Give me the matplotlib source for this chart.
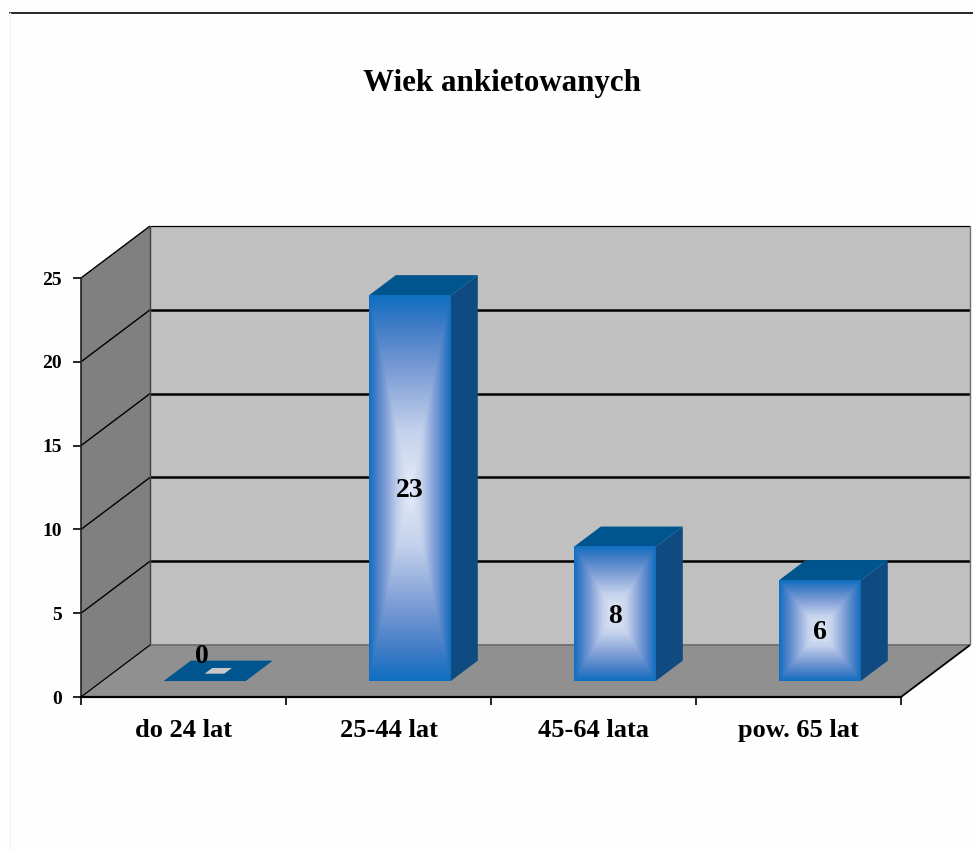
import numpy as np
import matplotlib
matplotlib.use("Agg")
import matplotlib.pyplot as plt
from matplotlib.colors import LinearSegmentedColormap
from matplotlib.patches import Polygon

categories = ["do 24 lat", "25-44 lat", "45-64 lata", "pow. 65 lat"]
values = [0, 23, 8, 6]
y_ticks = [0, 5, 10, 15, 20, 25]
title = "Wiek ankietowanych"

# depth of the fake 3D box, in data units (x categories, y values)
DX = 0.3366
DY = 3.1
BAR_W = 0.4
BAR_D0 = 0.307
BAR_D1 = 0.70

plt.rcParams["font.family"] = ["Liberation Serif", "DejaVu Serif"]
plt.rcParams["font.weight"] = "bold"

fig = plt.figure(figsize=(9.73, 8.5), dpi=100, facecolor="#fefefe")
ax = fig.add_axes([81 / 973, (850 - 697) / 850, 820 / 973, 419 / 850])
ax.set_facecolor("none")
ax.set_xlim(0, len(categories))
ax.set_ylim(0, 25)


def pt(x, v, d=0.0):
    # d = 0 is the front plane, d = 1 the back wall
    return (x + d * DX, v + d * DY)


def face(points, color, z, edge="none", lw=0):
    ax.add_patch(Polygon(points, closed=True, facecolor=color, edgecolor=edge,
                         linewidth=lw, zorder=z, clip_on=False))


def line(a, b, color="black", lw=1.0, z=2):
    ax.plot([a[0], b[0]], [a[1], b[1]], color=color, lw=lw, zorder=z,
            clip_on=False, solid_capstyle="butt")


n = len(categories)
top = y_ticks[-1]

# walls and floor
face([pt(0, 0, 0), pt(0, 0, 1), pt(0, top, 1), pt(0, top, 0)], "#808080", 1)
face([pt(0, 0, 1), pt(n, 0, 1), pt(n, top, 1), pt(0, top, 1)], "#c0c0c0", 1)
face([pt(0, 0, 0), pt(n, 0, 0), pt(n, 0, 1), pt(0, 0, 1)], "#909090", 1)

# gridlines
for t in y_ticks[1:]:
    line(pt(0, t, 0), pt(0, t, 1), lw=1.0)
    line(pt(0, t, 1), pt(n, t, 1), lw=0.9 if t == top else 1.8)
line(pt(0, 0, 0), pt(0, 0, 1), lw=0.9)
line(pt(0, 0, 1), pt(n, 0, 1), color="#6a6a6a", lw=1.2)
line(pt(0, 0, 1), pt(0, top, 1), color="#404040", lw=1.0)
line(pt(n, 0, 0), pt(n, 0, 1), lw=1.3)
line(pt(n, 0, 1), pt(n, top, 1), color="#707070", lw=1.0)

# gradient of the bar fronts, light in the middle, blue at the rim
bar_cmap = LinearSegmentedColormap.from_list(
    "bar", [(0.0, "#e6ecf8"), (0.3, "#c3d1ec"), (0.6, "#7f9ed6"),
            (0.85, "#3f7cc6"), (1.0, "#0f6fc0")])
grid = np.linspace(-1, 1, 201)
u, w = np.meshgrid(grid, grid)
rim = np.maximum(np.abs(u), np.abs(w))

for i, v in enumerate(values):
    x0 = i + 0.5 - BAR_W / 2
    x1 = i + 0.5 + BAR_W / 2
    if v > 0:
        face([pt(x1, 0, BAR_D0), pt(x1, 0, BAR_D1), pt(x1, v, BAR_D1), pt(x1, v, BAR_D0)],
             "#0f4a80", 3)
        face([pt(x0, v, BAR_D0), pt(x1, v, BAR_D0), pt(x1, v, BAR_D1), pt(x0, v, BAR_D1)],
             "#00558f", 3)
        fx0, fy0 = pt(x0, 0, BAR_D0)
        fx1, fy1 = pt(x1, v, BAR_D0)
        ax.imshow(rim, cmap=bar_cmap, vmin=0, vmax=1, extent=[fx0, fx1, fy0, fy1],
                  aspect="auto", origin="lower", zorder=4, clip_on=False,
                  interpolation="bilinear")
        lx, ly = (fx0 + fx1) / 2, (fy0 + fy1) / 2
    else:
        # a zero bar is only the flat top with a small light hole
        face([pt(x0, 0, BAR_D0), pt(x1, 0, BAR_D0), pt(x1, 0, BAR_D1), pt(x0, 0, BAR_D1)],
             "#00558f", 3)
        cx = (x0 + x1) / 2
        hw = BAR_W * 0.12
        d0 = BAR_D0 + (BAR_D1 - BAR_D0) * 0.36
        d1 = BAR_D0 + (BAR_D1 - BAR_D0) * 0.64
        face([pt(cx - hw, 0, d0), pt(cx + hw, 0, d0), pt(cx + hw, 0, d1), pt(cx - hw, 0, d1)],
             "#c8c8c8", 4)
        lx, ly = pt(i + 0.5, 0, BAR_D1)
        lx -= 0.145
        ly += 0.35
    ax.annotate(str(v), (lx, ly), xytext=(0, -1.5), textcoords="offset points",
                ha="center", va="center", fontsize=20, zorder=5, color="black",
                annotation_clip=False)

# axes
for s in ["top", "right"]:
    ax.spines[s].set_visible(False)
ax.spines["left"].set_color("#202020")
ax.spines["left"].set_linewidth(1.2)
ax.spines["bottom"].set_linewidth(1.6)
ax.spines["left"].set_zorder(6)
ax.spines["bottom"].set_zorder(6)
ax.set_yticks(y_ticks)
ax.set_xticks(np.arange(n + 1))
ax.set_xticklabels([])
ax.set_xticks(np.arange(n) + 0.5, minor=True)
ax.set_xticklabels(categories, minor=True, fontsize=19, fontweight="bold")
ax.tick_params(axis="x", which="minor", length=0, pad=16)
ax.tick_params(axis="x", which="major", length=6, width=1.2, direction="out")
ax.tick_params(axis="y", length=6, width=1.2, pad=8, labelsize=14)

# page frame and title
fig.add_artist(plt.Line2D([10 / 973, 1], [1 - 13 / 850, 1 - 13 / 850], color="black", lw=1.2))
fig.add_artist(plt.Line2D([10 / 973, 10 / 973], [0, 1 - 13 / 850], color="#f2f2f2", lw=1.0))
fig.text(502 / 973, 1 - 83 / 850, title, ha="center", va="center", fontsize=22.3, fontweight="bold")

fig.savefig("out.png", dpi=100, facecolor=fig.get_facecolor())
